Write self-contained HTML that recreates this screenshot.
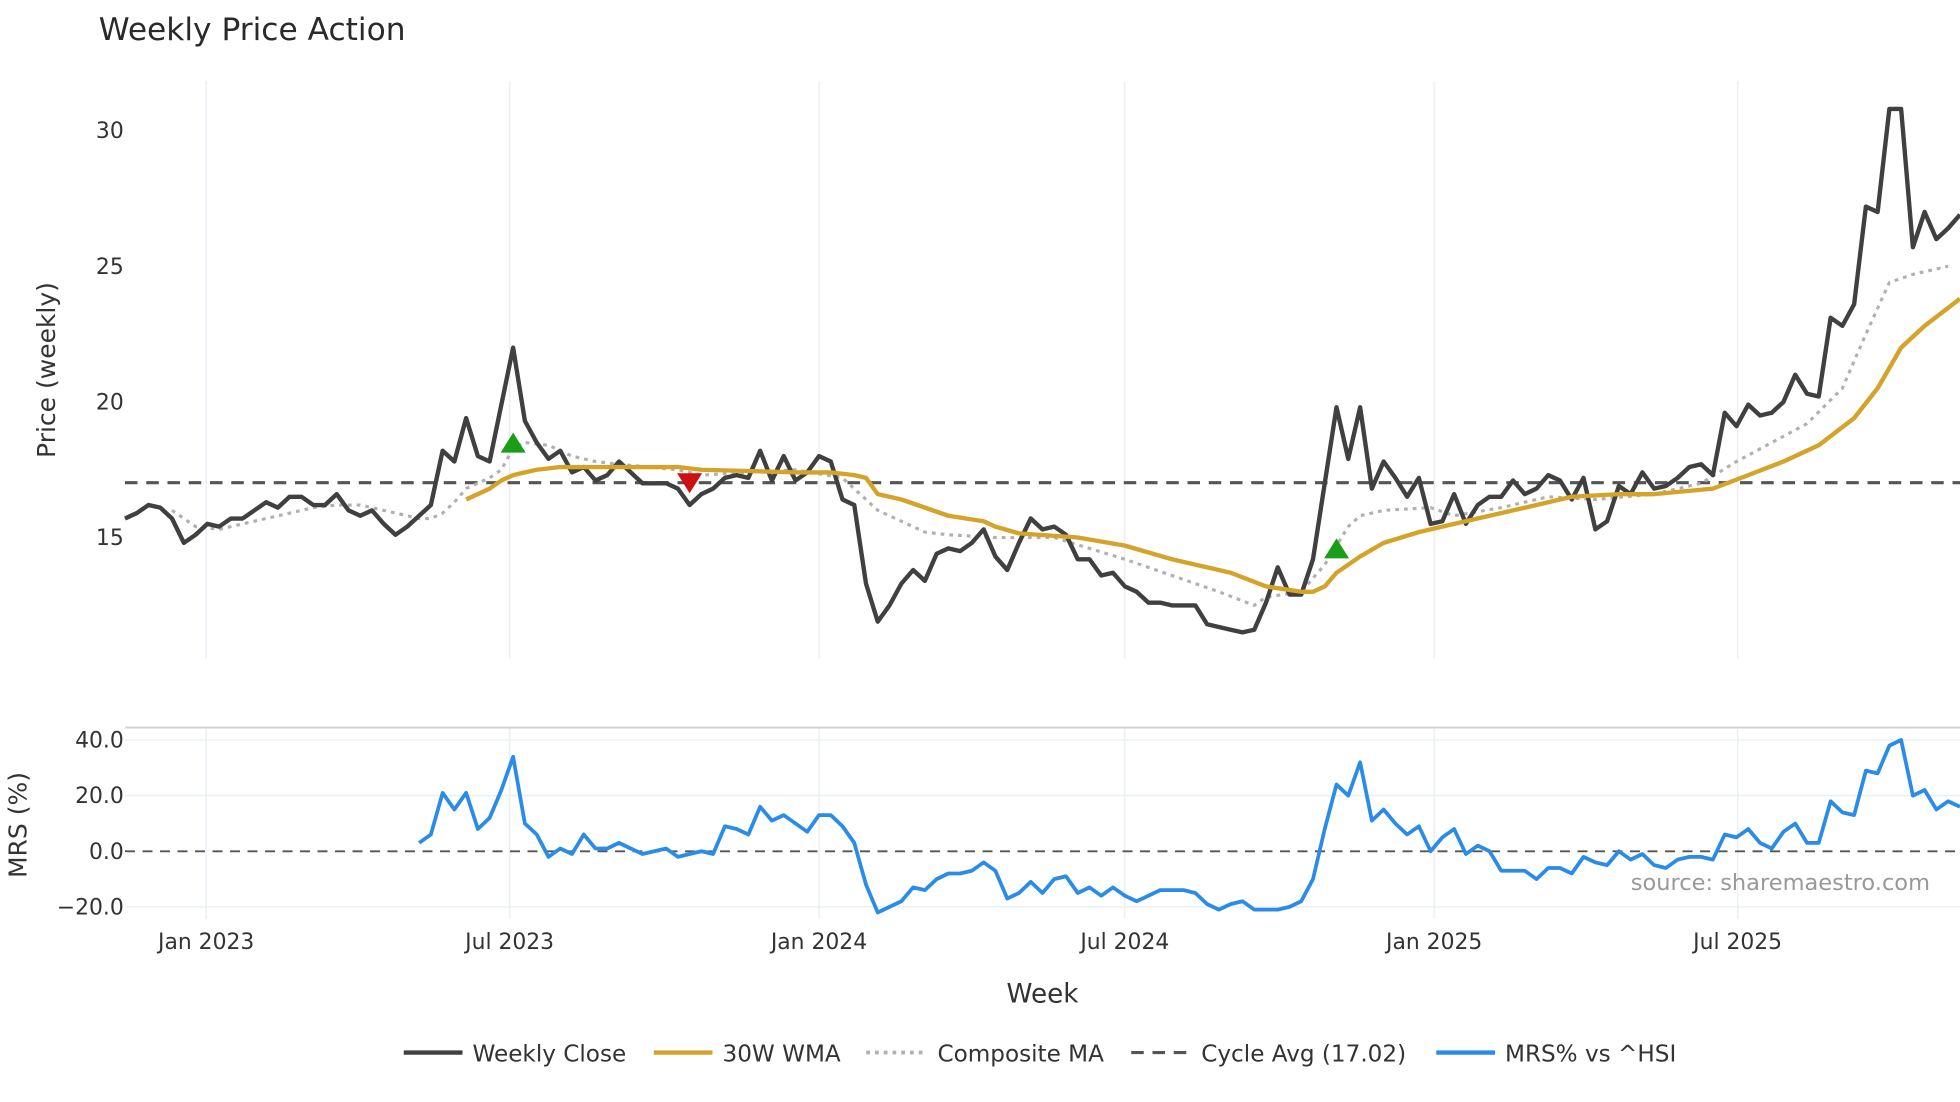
<!DOCTYPE html>
<html><head><meta charset="utf-8"><style>
html,body{margin:0;padding:0;background:#fff;}
svg{display:block;font-family:"DejaVu Sans","Liberation Sans",sans-serif;}
</style></head><body>
<svg id="chart" width="1960" height="1102" viewBox="0 0 1568 881.6" xmlns="http://www.w3.org/2000/svg">
<rect width="1568" height="882" fill="#fff"/>
<text x="79" y="32" font-size="25" fill="#2a2a2a">Weekly Price Action</text>
<g id="grid"></g>
<g id="series"></g>
<text transform="translate(44,296) rotate(-90)" text-anchor="middle" font-size="20" fill="#333">Price (weekly)</text>
<text transform="translate(21,660) rotate(-90)" text-anchor="middle" font-size="20" fill="#333">MRS (%)</text>
<text x="834" y="802" text-anchor="middle" font-size="21" fill="#333">Week</text>
<text x="1544" y="712" text-anchor="end" font-size="18" fill="#999">source: sharemaestro.com</text>
<g font-size="18.5" fill="#333">
<g><line x1="323" y1="842" x2="370" y2="842" stroke="#404040" stroke-width="3.5"/><text x="378" y="849">Weekly Close</text></g>
<g><line x1="523" y1="842" x2="570" y2="842" stroke="#d4a32a" stroke-width="3.5"/><text x="578" y="849">30W WMA</text></g>
<g><line x1="693" y1="842" x2="740" y2="842" stroke="#b0b0b0" stroke-width="3" stroke-dasharray="3,4"/><text x="750" y="849">Composite MA</text></g>
<g><line x1="905" y1="842" x2="952" y2="842" stroke="#555" stroke-width="2.5" stroke-dasharray="10,7"/><text x="961" y="849">Cycle Avg (17.02)</text></g>
<g><line x1="1149" y1="842" x2="1196" y2="842" stroke="#2b8ce8" stroke-width="3.5"/><text x="1204" y="849">MRS% vs ^HSI</text></g>
</g>
</svg>
<script>
const closeVals=[15.7,15.9,16.2,16.1,15.7,14.8,15.1,15.5,15.4,15.7,15.7,16.0,16.3,16.1,16.5,16.5,16.2,16.2,16.6,16.0,15.8,16.0,15.5,15.1,15.4,15.8,16.2,18.2,17.8,19.4,18.0,17.8,19.9,22.0,19.3,18.5,17.9,18.2,17.4,17.6,17.1,17.3,17.8,17.4,17.0,17.0,17.0,16.8,16.2,16.6,16.8,17.2,17.3,17.2,18.2,17.1,18.0,17.1,17.4,18.0,17.8,16.4,16.2,13.3,11.9,12.5,13.3,13.8,13.4,14.4,14.6,14.5,14.8,15.3,14.3,13.8,14.8,15.7,15.3,15.4,15.1,14.2,14.2,13.6,13.7,13.2,13.0,12.6,12.6,12.5,12.5,12.5,11.8,11.7,11.6,11.5,11.6,12.6,13.9,12.9,12.9,14.2,17.0,19.8,17.9,19.8,16.8,17.8,17.2,16.5,17.2,15.5,15.6,16.6,15.5,16.2,16.5,16.5,17.1,16.6,16.8,17.3,17.1,16.4,17.2,15.3,15.6,16.9,16.6,17.4,16.8,16.9,17.2,17.6,17.7,17.3,19.6,19.1,19.9,19.5,19.6,20.0,21.0,20.3,20.2,23.1,22.8,23.6,27.2,27.0,30.8,30.8,25.7,27.0,26.0,26.4,26.9];
const wmaWeeks=[29,30,31,32,33,34,35,37,47,49,53,57,60,62,63,64,66,68,70,73,74,76,81,85,89,94,97,100,101,102,103,105,107,110,113,116,120,123,127,130,135,138,141,144,147,149,151,153,156];
const wmaVals=[16.4,16.6,16.8,17.1,17.3,17.4,17.5,17.6,17.6,17.5,17.45,17.4,17.4,17.3,17.2,16.6,16.4,16.1,15.8,15.6,15.4,15.15,15.0,14.7,14.2,13.7,13.2,13.0,13.0,13.2,13.7,14.3,14.8,15.2,15.5,15.8,16.2,16.5,16.6,16.6,16.8,17.3,17.8,18.4,19.4,20.5,22.0,22.8,23.8];
const compWeeks=[4,5,6,8,10,12,14,16,18,20,22,24,25,26,27,28,29,30,31,32,33,34,36,38,40,42,47,49,53,57,61,64,66,68,70,74,79,82,85,89,93,96,97,100,102,104,105,107,111,113,117,121,125,130,134,137,140,143,146,148,150,152,155];
const compVals=[16.0,15.7,15.4,15.3,15.5,15.7,15.9,16.1,16.2,16.2,16.0,15.8,15.7,15.7,15.9,16.3,16.8,17.0,17.2,17.5,18.3,18.5,18.4,18.0,17.8,17.7,17.5,17.3,17.4,17.5,17.2,16.0,15.6,15.2,15.1,15.0,15.0,14.6,14.2,13.6,13.0,12.5,12.8,13.0,14.0,15.4,15.8,16.0,16.1,15.8,16.1,16.5,16.4,16.6,17.0,17.8,18.5,19.2,20.5,22.5,24.4,24.7,25.0];
const mrsStart=25;
const mrsVals=[3,6,21,15,21,8,12,22,34,10,6,-2,1,-1,6,1,1,3,1,-1,0,1,-2,-1,0,-1,9,8,6,16,11,13,10,7,13,13,9,3,-12,-22,-20,-18,-13,-14,-10,-8,-8,-7,-4,-7,-17,-15,-11,-15,-10,-9,-15,-13,-16,-13,-16,-18,-16,-14,-14,-14,-15,-19,-21,-19,-18,-21,-21,-21,-20,-18,-10,8,24,20,32,11,15,10,6,9,0,5,8,-1,2,0,-7,-7,-7,-10,-6,-6,-8,-2,-4,-5,0,-3,-1,-5,-6,-3,-2,-2,-3,6,5,8,3,1,7,10,3,3,18,14,13,29,28,38,40,20,22,15,18,16];
const cycleAvg=17.02;
const priceTicks=[15,20,25,30];
const mrsTicks=[-20,0,20,40];
const xTickWeeks=[6.9,32.7,59.0,85.0,111.3,137.1];
const xTickLabels=["Jan 2023","Jul 2023","Jan 2024","Jul 2024","Jan 2025","Jul 2025"];
const signalWeeks=[33,48,103];
const signalVals=[18.5,17.0,14.6];
const signalTypes=["up","down","up"];

const NS="http://www.w3.org/2000/svg";
const X=i=>100+i*9.41;
const YP=p=>430-(p-15)*21.7;
const YM=v=>681-v*2.225;
function mk(tag,attrs,parent){const e=document.createElementNS(NS,tag);for(const k in attrs)e.setAttribute(k,attrs[k]);parent.appendChild(e);return e;}
const grid=document.getElementById('grid'),ser=document.getElementById('series');
xTickWeeks.forEach((w,i)=>{
  let l=mk('line',{x1:X(w),x2:X(w),y1:65,y2:527,stroke:'#ebeff5','stroke-width':1.2},grid);
  
  
  let l2=mk('line',{x1:X(w),x2:X(w),y1:583,y2:735,stroke:'#ebeff5','stroke-width':1.2},grid);
  
  
  let t=mk('text',{x:X(w),y:759,'text-anchor':'middle','font-size':17.5,fill:'#333'},grid);
  t.textContent=xTickLabels[i];
  
  
});
priceTicks.forEach(p=>{
  let t=mk('text',{x:99,y:YP(p)+6,'text-anchor':'end','font-size':17.5,fill:'#333'},grid);
  t.textContent=p;
  
  
});
let sep=mk('line',{x1:100,x2:1568,y1:582,y2:582,stroke:'#d0d0d0','stroke-width':1.5},grid);


mrsTicks.forEach(v=>{
  if(v!==0){let g=mk('line',{x1:100,x2:1568,y1:YM(v),y2:YM(v),stroke:'#ebeff5','stroke-width':1.2},grid);
  
  }
  let t=mk('text',{x:99,y:YM(v)+6,'text-anchor':'end','font-size':17.5,fill:'#333'},grid);
  t.textContent=v.toFixed(1).replace('-','\u2212');
  
  
});
let z=mk('line',{x1:100,x2:1568,y1:YM(0),y2:YM(0),stroke:'#555','stroke-width':1.5,'stroke-dasharray':'8,6'},grid);


let cy=mk('line',{x1:100,x2:1568,y1:YP(cycleAvg),y2:YP(cycleAvg),stroke:'#555','stroke-width':2.5,'stroke-dasharray':'10,7'},ser);


function path(pts,attrs,name){
  const p=mk('path',Object.assign({d:'M'+pts.map(q=>q[0].toFixed(1)+','+q[1].toFixed(1)).join('L'),fill:'none','stroke-linejoin':'round'},attrs),ser);
  
  
}
path(compWeeks.map((w,i)=>[X(w),YP(compVals[i])]),{stroke:'#b0b0b0','stroke-width':2.5,'stroke-dasharray':'3,4'},'composite-ma-line');
path(closeVals.map((v,i)=>[X(i),YP(v)]),{stroke:'#404040','stroke-width':3.5},'weekly-close-line');
path(wmaWeeks.map((w,i)=>[X(w),YP(wmaVals[i])]),{stroke:'#d4a32a','stroke-width':3.5},'wma-30w-line');
path(mrsVals.map((v,i)=>[X(mrsStart+i),YM(v)]),{stroke:'#2b8ce8','stroke-width':3},'mrs-line');
signalWeeks.forEach((w,i)=>{
  const x=X(w),y=YP(signalVals[i]);
  const pts=signalTypes[i]==='up'?`${x-10},${y+8} ${x+10},${y+8} ${x},${y-8}`:`${x-10},${y-8} ${x+10},${y-8} ${x},${y+8}`;
  const t=mk('polygon',{points:pts,fill:signalTypes[i]==='up'?'#1a9e1a':'#cc1111'},ser);
  
  
});
</script>
</body></html>
